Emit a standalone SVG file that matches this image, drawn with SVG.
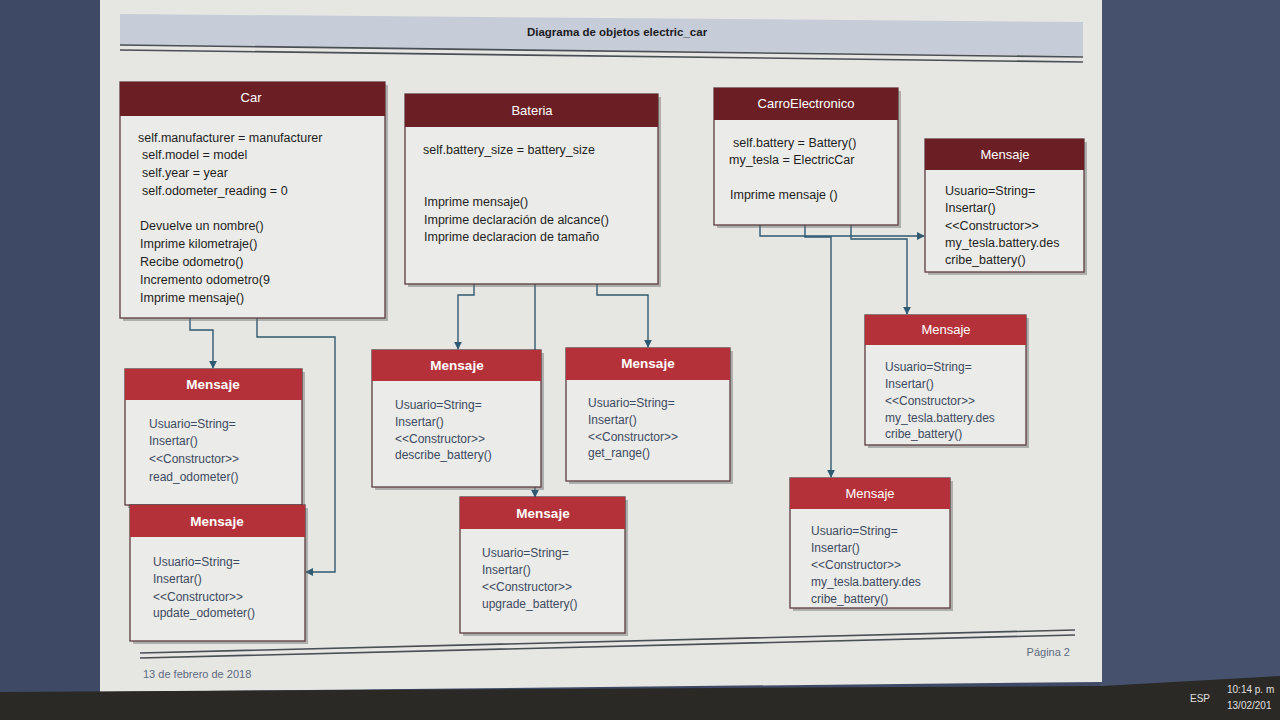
<svg xmlns="http://www.w3.org/2000/svg" width="1280" height="720" viewBox="0 0 1280 720">
<defs>
<style>
.page{fill:#e6e6e3}
.box{fill:#ebebe9;stroke:#5b3b3f;stroke-width:1.3}
.sh{fill:#6a6a6a;opacity:.45}
.hd1{fill:#6b1f25}
.hd2{fill:#b5313a}
.ht{fill:#ffffff;font-family:"Liberation Sans",Arial,sans-serif;font-size:13px;text-anchor:middle}
.htb{font-weight:bold;font-size:13.5px}
.bt{fill:#1e1e22;font-family:"Liberation Sans",Arial,sans-serif;font-size:12.5px}
.mt{fill:#3e4a60;font-family:"Liberation Sans",Arial,sans-serif;font-size:12px}
.conn{fill:none;stroke:#2f5a72;stroke-width:1.4}
.rule{stroke:#4a4f55;stroke-width:1.6;fill:none}
.ft{fill:#5d6a80;font-family:"Liberation Sans",Arial,sans-serif;font-size:11px}
.tb{fill:#e0e0e0;font-family:"Liberation Sans",Arial,sans-serif;font-size:10px}
</style>
<marker id="arr" viewBox="0 0 10 10" refX="9" refY="5" markerWidth="8" markerHeight="8" orient="auto" markerUnits="userSpaceOnUse">
<path d="M0,0 L10,5 L0,10 z" fill="#2f5a72"/>
</marker>
</defs>

<!-- background / screen -->
<rect x="0" y="0" width="1280" height="720" fill="#3e4966"/>
<rect x="1100" y="0" width="180" height="720" fill="#46516e"/>
<polygon class="page" points="100,0 1102,0 1102,682 100,692"/>
<polygon points="0,692 1102,686 1280,676 1280,720 0,720" fill="#2a2925"/>
<text class="tb" x="1190" y="702">ESP</text>
<text class="tb" x="1227" y="693">10:14 p. m</text>
<text class="tb" x="1227" y="709">13/02/201</text>

<!-- title -->
<g id="title">
<polygon points="120,14 1083,22 1083,56 120,45" fill="#c6ccd8"/>
<text x="617" y="36" font-family="'Liberation Sans',Arial,sans-serif" font-size="11.5" font-weight="bold" fill="#1b1b1f" text-anchor="middle">Diagrama de objetos electric_car</text>
<path class="rule" d="M120,45 L1083,57 M120,50 L1083,62"/>
</g>

<!-- footer -->
<g id="footer">
<path class="rule" d="M140,653 L1075,630 M140,658 L1075,635"/>
<text class="ft" x="1070" y="656" text-anchor="end">Página 2</text>
<text class="ft" x="143" y="678">13 de febrero de 2018</text>
</g>

<!-- connectors -->
<g id="connectors">
<path class="conn" d="M190,318 V330 H213 V368" marker-end="url(#arr)"/>
<path class="conn" d="M257,318 V337 H335 V572 H306" marker-end="url(#arr)"/>
<path class="conn" d="M474,284 V295 H458 V349" marker-end="url(#arr)"/>
<path class="conn" d="M535,284 V497" marker-end="url(#arr)"/>
<path class="conn" d="M597,284 V295 H648 V347" marker-end="url(#arr)"/>
<path class="conn" d="M760,225 V236 H924" marker-end="url(#arr)"/>
<path class="conn" d="M805,225 V237 H831 V477" marker-end="url(#arr)"/>
<path class="conn" d="M851,225 V239 H907 V314" marker-end="url(#arr)"/>
</g>

<!-- Car -->
<g id="car">
<rect class="sh" x="123" y="85" width="265" height="236"/>
<rect class="box" x="120" y="82" width="265" height="236"/>
<rect class="hd1" x="120" y="82" width="265" height="34"/>
<text class="ht" x="251" y="102">Car</text>
<text class="bt" x="138" y="142">self.manufacturer = manufacturer</text>
<text class="bt" x="142" y="159">self.model = model</text>
<text class="bt" x="142" y="177">self.year = year</text>
<text class="bt" x="142" y="195">self.odometer_reading = 0</text>
<text class="bt" x="140" y="230">Devuelve un nombre()</text>
<text class="bt" x="140" y="248">Imprime  kilometraje()</text>
<text class="bt" x="140" y="266">Recibe odometro()</text>
<text class="bt" x="140" y="284">Incremento odometro(9</text>
<text class="bt" x="140" y="302">Imprime mensaje()</text>
</g>

<!-- Bateria -->
<g id="bateria">
<rect class="sh" x="408" y="97" width="253" height="190"/>
<rect class="box" x="405" y="94" width="253" height="190"/>
<rect class="hd1" x="405" y="94" width="253" height="33"/>
<text class="ht" x="532" y="115">Bateria</text>
<text class="bt" x="423" y="154">self.battery_size = battery_size</text>
<text class="bt" x="424" y="206">Imprime mensaje()</text>
<text class="bt" x="424" y="224">Imprime declaración de alcance()</text>
<text class="bt" x="424" y="241">Imprime declaracion de tamaño</text>
</g>

<!-- CarroElectronico -->
<g id="carroelectronico">
<rect class="sh" x="717" y="91" width="184" height="137"/>
<rect class="box" x="714" y="88" width="184" height="137"/>
<rect class="hd1" x="714" y="88" width="184" height="32"/>
<text class="ht" x="806" y="108">CarroElectronico</text>
<text class="bt" x="733" y="147">self.battery = Battery()</text>
<text class="bt" x="729" y="164">my_tesla = ElectricCar</text>
<text class="bt" x="730" y="199">Imprime mensaje ()</text>
</g>

<!-- Mensaje top right -->
<g id="mensaje-ce1">
<rect class="sh" x="928" y="142" width="159" height="133"/>
<rect class="box" x="925" y="139" width="159" height="133"/>
<rect class="hd1" x="925" y="139" width="159" height="31"/>
<text class="ht" x="1005" y="159">Mensaje</text>
<text class="bt" x="945" y="195" font-size="12">Usuario=String=</text>
<text class="bt" x="945" y="212" font-size="12">Insertar()</text>
<text class="bt" x="945" y="230" font-size="12">&lt;&lt;Constructor&gt;&gt;</text>
<text class="bt" x="945" y="247" font-size="12">my_tesla.battery.des</text>
<text class="bt" x="945" y="264" font-size="12">cribe_battery()</text>
</g>

<!-- Mensaje right middle -->
<g id="mensaje-ce2">
<rect class="sh" x="868" y="318" width="161" height="130"/>
<rect class="box" x="865" y="315" width="161" height="130"/>
<rect class="hd2" x="865" y="315" width="161" height="30"/>
<text class="ht" x="946" y="334">Mensaje</text>
<text class="mt" x="885" y="371">Usuario=String=</text>
<text class="mt" x="885" y="388">Insertar()</text>
<text class="mt" x="885" y="405">&lt;&lt;Constructor&gt;&gt;</text>
<text class="mt" x="885" y="422">my_tesla.battery.des</text>
<text class="mt" x="885" y="438">cribe_battery()</text>
</g>

<!-- Mensaje right bottom -->
<g id="mensaje-ce3">
<rect class="sh" x="793" y="481" width="160" height="130"/>
<rect class="box" x="790" y="478" width="160" height="130"/>
<rect class="hd2" x="790" y="478" width="160" height="31"/>
<text class="ht" x="870" y="498">Mensaje</text>
<text class="mt" x="811" y="535">Usuario=String=</text>
<text class="mt" x="811" y="552">Insertar()</text>
<text class="mt" x="811" y="569">&lt;&lt;Constructor&gt;&gt;</text>
<text class="mt" x="811" y="586">my_tesla.battery.des</text>
<text class="mt" x="811" y="603">cribe_battery()</text>
</g>

<!-- Mensaje read_odometer -->
<g id="mensaje-car1">
<rect class="sh" x="128" y="372" width="177" height="136"/>
<rect class="box" x="125" y="369" width="177" height="136"/>
<rect class="hd2" x="125" y="369" width="177" height="31"/>
<text class="ht htb" x="213" y="389">Mensaje</text>
<text class="mt" x="149" y="428">Usuario=String=</text>
<text class="mt" x="149" y="445">Insertar()</text>
<text class="mt" x="149" y="463">&lt;&lt;Constructor&gt;&gt;</text>
<text class="mt" x="149" y="481">read_odometer()</text>
</g>

<!-- Mensaje update_odometer -->
<g id="mensaje-car2">
<rect class="sh" x="133" y="508" width="175" height="136"/>
<rect class="box" x="130" y="505" width="175" height="136"/>
<rect class="hd2" x="130" y="505" width="175" height="32"/>
<text class="ht htb" x="217" y="526">Mensaje</text>
<text class="mt" x="153" y="566">Usuario=String=</text>
<text class="mt" x="153" y="583">Insertar()</text>
<text class="mt" x="153" y="601">&lt;&lt;Constructor&gt;&gt;</text>
<text class="mt" x="153" y="617">update_odometer()</text>
</g>

<!-- Mensaje describe_battery -->
<g id="mensaje-bat1">
<rect class="sh" x="375" y="353" width="169" height="137"/>
<rect class="box" x="372" y="350" width="169" height="137"/>
<rect class="hd2" x="372" y="350" width="169" height="31"/>
<text class="ht htb" x="457" y="370">Mensaje</text>
<text class="mt" x="395" y="409">Usuario=String=</text>
<text class="mt" x="395" y="426">Insertar()</text>
<text class="mt" x="395" y="443">&lt;&lt;Constructor&gt;&gt;</text>
<text class="mt" x="395" y="459">describe_battery()</text>
</g>

<!-- Mensaje get_range -->
<g id="mensaje-bat2">
<rect class="sh" x="569" y="351" width="164" height="133"/>
<rect class="box" x="566" y="348" width="164" height="133"/>
<rect class="hd2" x="566" y="348" width="164" height="32"/>
<text class="ht htb" x="648" y="368">Mensaje</text>
<text class="mt" x="588" y="407">Usuario=String=</text>
<text class="mt" x="588" y="424">Insertar()</text>
<text class="mt" x="588" y="441">&lt;&lt;Constructor&gt;&gt;</text>
<text class="mt" x="588" y="457">get_range()</text>
</g>

<!-- Mensaje upgrade_battery -->
<g id="mensaje-bat3">
<rect class="sh" x="463" y="500" width="165" height="136"/>
<rect class="box" x="460" y="497" width="165" height="136"/>
<rect class="hd2" x="460" y="497" width="165" height="32"/>
<text class="ht htb" x="543" y="518">Mensaje</text>
<text class="mt" x="482" y="557">Usuario=String=</text>
<text class="mt" x="482" y="574">Insertar()</text>
<text class="mt" x="482" y="591">&lt;&lt;Constructor&gt;&gt;</text>
<text class="mt" x="482" y="608">upgrade_battery()</text>
</g>
</svg>
